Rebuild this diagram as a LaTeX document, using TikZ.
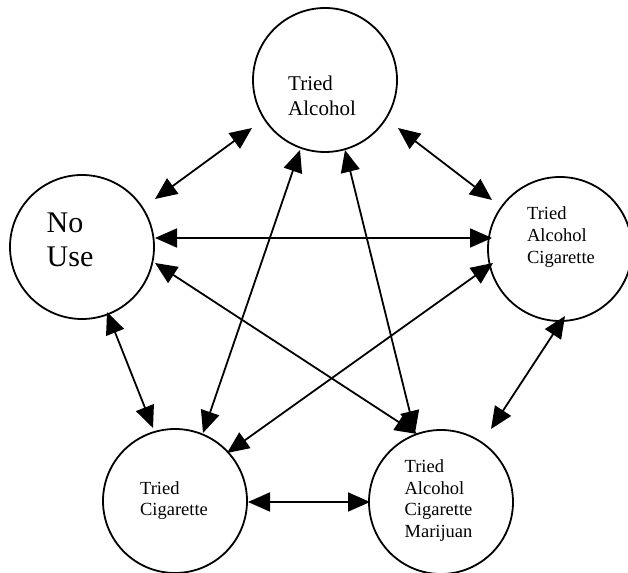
\documentclass[tikz,border=0pt]{standalone}
\usepackage{fontspec}
\setmainfont{Liberation Serif}
\usetikzlibrary{arrows.meta,calc}
\begin{document}
\begin{tikzpicture}[x=1pt,y=1pt,
  state/.style={draw,circle,line width=1.8pt,minimum size=144pt,inner sep=0pt},
  lbl/.style={align=left,inner sep=0pt,font=\fontsize{18.5}{21.7}\selectfont},
  dbl/.style={line width=1.8pt,{Triangle[length=22pt,width=19pt]}-{Triangle[length=22pt,width=19pt]}}]
\useasboundingbox (0,0) rectangle (628,572);
% circles (image y -> 572-y)
\node[state] (nu) at (82,325) {};
\node[state] (ta) at (325,492) {};
\node[state] (tac) at (560,323) {};
\node[state] (tc) at (175,71) {};
\node[state] (tacm) at (441,70) {};
% labels
\node[lbl,font=\fontsize{30}{34}\selectfont] (nut) at ($(nu)+(-12,7)$) {No\\Use};
\node[lbl,font=\fontsize{21}{25}\selectfont] (tat) at ($(ta)+(-3,-16)$) {Tried\\Alcohol};
\node[lbl] (tact) at ($(tac)+(1,12)$) {Tried\\Alcohol\\Cigarette};
\node[lbl] (tct) at ($(tc)+(-1,0.5)$) {Tried\\Cigarette};
\node[lbl] (tacmt) at ($(tacm)+(-2.5,1.5)$) {Tried\\Alcohol\\Cigarette\\Marijuan};
% connectors
\draw[dbl] ($(nu)+(73,48)$) -- ($(ta)+(-73,-48)$);
\draw[dbl] ($(nu)+(73,9)$) -- ($(tac)+(-68,11)$);
\draw[dbl] ($(nu)+(73,-16)$) -- ($(tacm)+(-24,68)$);
\draw[dbl] ($(nu)+(25,-65)$) -- ($(tc)+(-22,73)$);
\draw[dbl] ($(ta)+(73,-48)$) -- ($(tac)+(-68,49)$);
\draw[dbl] ($(ta)+(-25,-70)$) -- ($(tc)+(28,68)$);
\draw[dbl] ($(ta)+(20,-70)$) -- ($(tacm)+(-26,69)$);
\draw[dbl] ($(tac)+(-67,-14)$) -- ($(tc)+(52,48)$);
\draw[dbl] ($(tac)+(5,-67)$) -- ($(tacm)+(50,73)$);
\draw[dbl] ($(tc)+(73,-1)$) -- ($(tacm)+(-71,0)$);
\end{tikzpicture}
\end{document}
